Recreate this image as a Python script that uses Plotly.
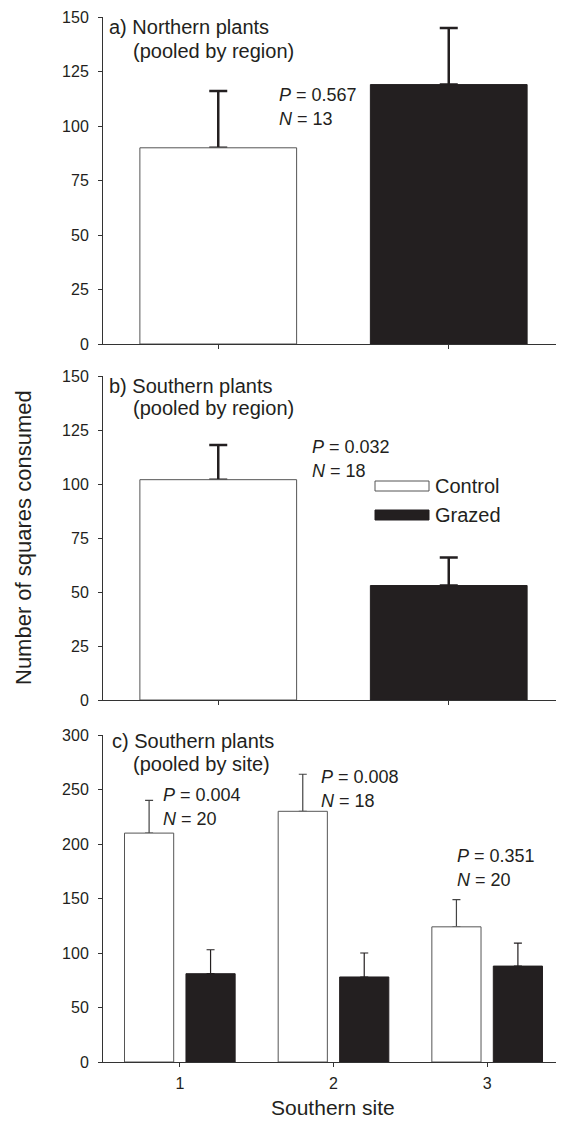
import plotly.graph_objects as go

# ---------------- data ----------------
groups_ab = ["Control", "Grazed"]
north_mean = [90, 119]
north_se = [26, 26]
south_mean = [102, 53]
south_se = [16, 13]

sites = [1, 2, 3]
site_control_mean = [210, 230, 124]
site_control_se = [30, 34, 25]
site_grazed_mean = [81, 78, 88]
site_grazed_se = [22, 22, 21]

stats_a = ("0.567", "13")
stats_b = ("0.032", "18")
stats_c = [("0.004", "20"), ("0.008", "18"), ("0.351", "20")]

# ---------------- style ----------------
FONT = "Liberation Sans, Arial, Helvetica, sans-serif"
INK = "#231f20"
EDGE = "#555555"
WHITE = "#ffffff"
CLEAR = "rgba(0,0,0,0)"

OFF = 8  # default page body margin
W_IMG, H_IMG = 564, 1121
L, R, T, B = 103, 564, 17, 1062   # plot area in page pixels


def px(x):
    return (x - L) / (R - L)


def py(y):
    return (B - y) / (B - T)


dom_a = [py(344), py(T)]
dom_b = [py(700), py(376)]
dom_c = [py(B), py(735)]

fig = go.Figure()


def bar_pair(x, y, se, xa, ya, colors, edges, width, offset=None, ebcolor=INK,
             thick=2.5, cap=9):
    # carrier with error bars (drawn first), visible bars drawn on top
    kw = dict(width=width)
    if offset is not None:
        kw["offset"] = offset
    fig.add_trace(go.Bar(
        x=x, y=y, marker=dict(color=CLEAR, line=dict(width=0)),
        error_y=dict(type="data", array=se, arrayminus=[0] * len(se), symmetric=False,
                     color=ebcolor, thickness=thick, width=cap),
        xaxis=xa, yaxis=ya, showlegend=False, hoverinfo="skip", **kw))
    fig.add_trace(go.Bar(
        x=x, y=y, marker=dict(color=colors, line=dict(color=edges, width=1)),
        xaxis=xa, yaxis=ya, showlegend=False, **kw))


# panel a
bar_pair(groups_ab, north_mean, north_se, "x", "y", [WHITE, INK], [EDGE, INK], 0.68)
# panel b
bar_pair(groups_ab, south_mean, south_se, "x2", "y2", [WHITE, INK], [EDGE, INK], 0.68)
# panel c
bar_pair(sites, site_control_mean, site_control_se, "x3", "y3", WHITE, EDGE, 0.32,
         offset=-0.36, ebcolor="#444444", thick=1.2, cap=4)
bar_pair(sites, site_grazed_mean, site_grazed_se, "x3", "y3", INK, INK, 0.32,
         offset=0.04, ebcolor=INK, thick=1.2, cap=4)

axis_common = dict(showline=True, linecolor="#333333", linewidth=1, ticks="outside",
                   ticklen=4, tickcolor="#333333", showgrid=False, zeroline=False,
                   tickfont=dict(family=FONT, size=16, color=INK))

fig.update_layout(
    width=W_IMG - OFF, height=H_IMG - OFF,
    margin=dict(l=L - OFF, r=W_IMG - R, t=T - OFF, b=H_IMG - B),
    paper_bgcolor="white", plot_bgcolor="white",
    barmode="overlay",
    font=dict(family=FONT, color=INK),
    xaxis=dict(axis_common, domain=[0, 1], anchor="y", range=[-0.5, 1.5],
               showticklabels=False),
    yaxis=dict(axis_common, domain=dom_a, anchor="x", range=[0, 150], tick0=0, dtick=25,
               ticklabelstandoff=6),
    xaxis2=dict(axis_common, domain=[0, 1], anchor="y2", range=[-0.5, 1.5],
                showticklabels=False),
    yaxis2=dict(axis_common, domain=dom_b, anchor="x2", range=[0, 150], tick0=0, dtick=25,
                ticklabelstandoff=6),
    xaxis3=dict(axis_common, domain=[0, 1], anchor="y3", range=[0.5, 3.5],
                tickvals=sites, ticktext=[str(s) for s in sites], ticklabelstandoff=3),
    yaxis3=dict(axis_common, domain=dom_c, anchor="x3", range=[0, 300], tick0=0, dtick=50,
                ticklabelstandoff=6),
)

ann = []


def text(x, y, s, size=20, **kw):
    d = dict(x=px(x), y=py(y), xref="paper", yref="paper", text=s, showarrow=False,
             xanchor="left", yanchor="middle",
             font=dict(family=FONT, size=size, color=INK))
    d.update(kw)
    ann.append(d)


# panel titles
text(107, 27, "a) Northern plants")
text(131, 51, "(pooled by region)")
text(107, 386, "b) Southern plants")
text(131, 408, "(pooled by region)")
text(110, 741, "c) Southern plants")
text(131, 764, "(pooled by site)")


def stat(x, y, p, n):
    text(x, y, "<i>P</i> = " + p, size=18)
    text(x, y + 24, "<i>N</i> = " + n, size=18)


stat(277, 95, *stats_a)
stat(310, 447, *stats_b)
stat(161, 795, *stats_c[0])
stat(319, 777, *stats_c[1])
stat(455, 856, *stats_c[2])

# legend (drawn)
text(433, 486, "Control")
text(433, 515, "Grazed")
shapes = [
    dict(type="rect", xref="paper", yref="paper", x0=px(375), x1=px(429),
         y0=py(491), y1=py(481), fillcolor=WHITE, line=dict(color=EDGE, width=1)),
    dict(type="rect", xref="paper", yref="paper", x0=px(375), x1=px(429),
         y0=py(520), y1=py(510), fillcolor=INK, line=dict(color=INK, width=1)),
]

# axis titles
ann.append(dict(x=px(23), y=py(538), xref="paper", yref="paper",
                text="Number of squares consumed", showarrow=False, textangle=-90,
                xanchor="center", yanchor="middle",
                font=dict(family=FONT, size=22, color=INK)))
ann.append(dict(x=px(333), y=py(1107), xref="paper", yref="paper",
                text="Southern site", showarrow=False,
                xanchor="center", yanchor="middle",
                font=dict(family=FONT, size=21, color=INK)))

fig.update_layout(annotations=ann, shapes=shapes)

fig.write_html("out.html")
